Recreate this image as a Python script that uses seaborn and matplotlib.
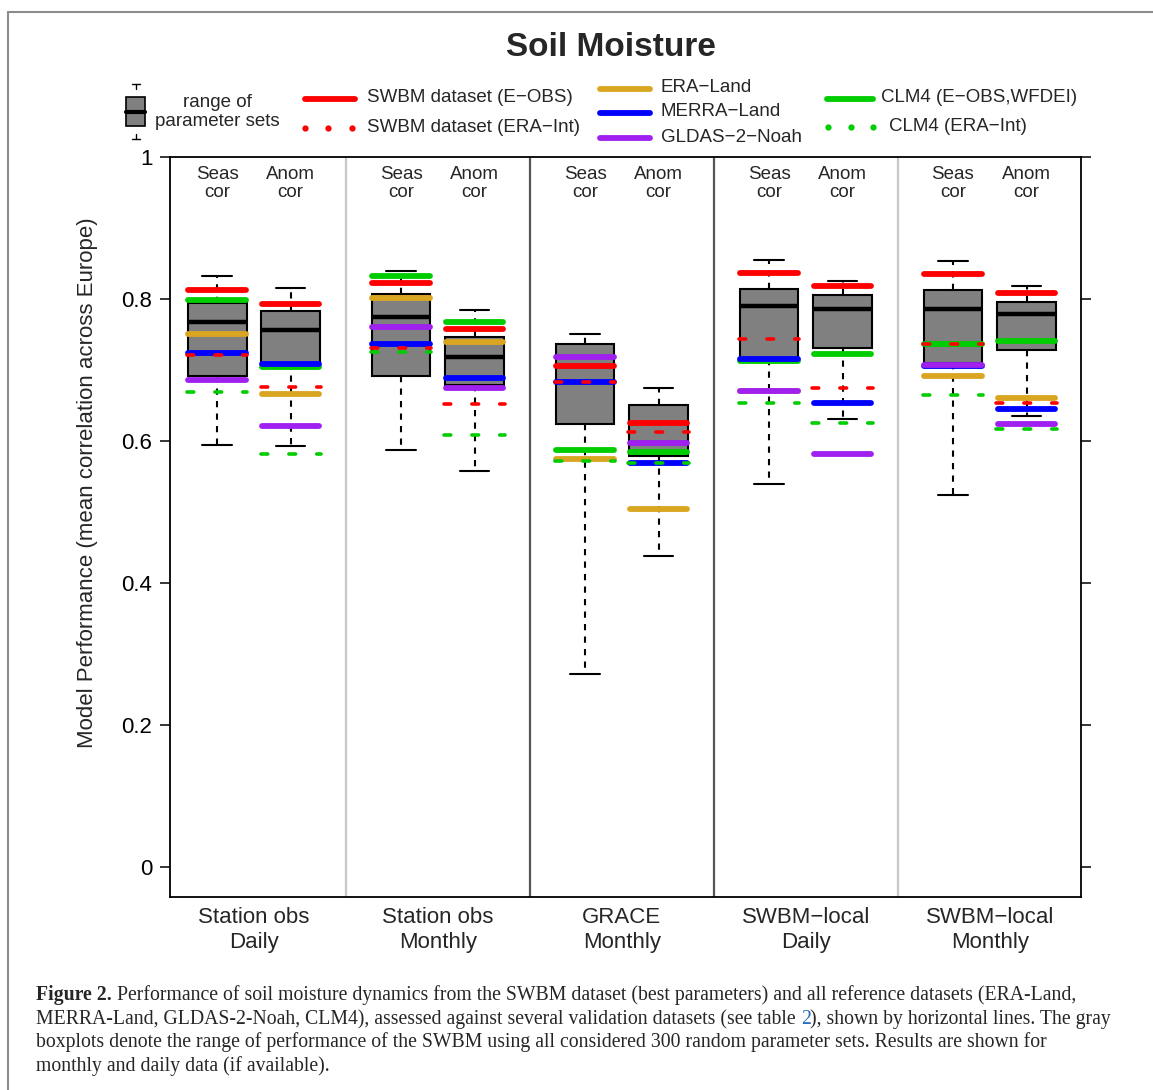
import numpy as np
import pandas as pd
import matplotlib
matplotlib.use("Agg")
import matplotlib.pyplot as plt
import seaborn as sns
from matplotlib.lines import Line2D
from matplotlib.patches import Rectangle

# ---- data ----
groups = ["Station obs\nDaily", "Station obs\nMonthly", "GRACE\nMonthly",
          "SWBM\u2212local\nDaily", "SWBM\u2212local\nMonthly"]
metrics = ["Seas\ncor", "Anom\ncor"]

# boxplot summary of the 300 random parameter sets (whisker low, q1, median, q3, whisker high)
box_lo = [0.594, 0.593, 0.588, 0.558, 0.272, 0.438, 0.540, 0.631, 0.524, 0.635]
box_q1 = [0.691, 0.710, 0.691, 0.679, 0.624, 0.579, 0.715, 0.731, 0.710, 0.728]
box_med = [0.767, 0.757, 0.774, 0.719, 0.706, 0.597, 0.790, 0.786, 0.786, 0.779]
box_q3 = [0.795, 0.783, 0.807, 0.746, 0.737, 0.650, 0.814, 0.806, 0.812, 0.796]
box_hi = [0.833, 0.816, 0.839, 0.785, 0.751, 0.675, 0.855, 0.825, 0.854, 0.819]

# reference datasets (horizontal lines)
swbm_eobs = [0.813, 0.793, 0.822, 0.758, 0.706, 0.626, 0.837, 0.818, 0.835, 0.808]
swbm_eraint = [0.721, 0.676, 0.731, 0.652, 0.683, 0.613, 0.744, 0.675, 0.737, 0.653]
era_land = [0.751, 0.666, 0.802, 0.739, 0.574, 0.504, 0.671, np.nan, 0.691, 0.661]
merra_land = [0.724, 0.708, 0.737, 0.689, 0.683, 0.569, 0.715, 0.654, 0.705, 0.645]
gldas_noah = [0.686, 0.621, 0.760, 0.675, 0.718, 0.597, 0.670, 0.582, 0.707, 0.624]
clm4_eobs = [0.798, 0.704, 0.833, 0.768, 0.587, 0.585, 0.713, 0.722, 0.737, 0.741]
clm4_eraint = [0.669, 0.582, 0.726, 0.609, 0.572, 0.569, 0.654, 0.625, 0.665, 0.617]

yticks = [0, 0.2, 0.4, 0.6, 0.8, 1]
ytick_labels = ["0", "0.2", "0.4", "0.6", "0.8", "1"]

# ---- styling ----
sns.set_style("ticks")
plt.rcParams["font.family"] = ["Liberation Sans", "DejaVu Sans"]

W, H = 1153, 1090
fig = plt.figure(figsize=(W / 100, H / 100), dpi=100)


def fx(x):
    return x / W


def fy(y):
    return 1 - y / H


ax = fig.add_axes([fx(170), fy(897), fx(1081) - fx(170), fy(157) - fy(897)])

# box positions: pairs per group
positions = [2.5 * g + k for g in range(len(groups)) for k in range(len(metrics))]

rows = []
for i, p in enumerate(positions):
    for v in (box_lo[i], box_q1[i], box_med[i], box_q3[i], box_hi[i]):
        rows.append({"pos": p, "value": v})
df = pd.DataFrame(rows)

sns.boxplot(data=df, x="pos", y="value", native_scale=True, whis=(0, 100),
            width=0.8, color="#808080", saturation=1, linecolor="black",
            linewidth=1.5, medianprops=dict(linewidth=3.2, color="black"),
            whiskerprops=dict(linestyle=(0, (3, 3))), ax=ax)

# group separators
sep_colors = ["#c8c8c8", "#555555", "#555555", "#c8c8c8"]
for g in range(len(groups) - 1):
    ax.axvline(2.5 * g + 1.75, color=sep_colors[g], lw=1.6, zorder=1)

# reference dataset lines
pos = np.array(positions)
dotted = (0, (1.86, 5.86))
series = [
    (era_land, "#DAA520", "solid"),
    (clm4_eobs, "#00CD00", "solid"),
    (merra_land, "#0000FF", "solid"),
    (gldas_noah, "#A020F0", "solid"),
    (swbm_eobs, "#FF0000", "solid"),
    (swbm_eraint, "#FF0000", dotted),
    (clm4_eraint, "#00CD00", dotted),
]
for z, (vals, col, ls) in enumerate(series):
    vals = np.array(vals, dtype=float)
    ok = ~np.isnan(vals)
    if ls == "solid":
        half, lw = 0.39, 4.2
    else:
        half, lw = 0.41, 2.6
    ax.hlines(vals[ok], pos[ok] - half, pos[ok] + half, colors=col, linewidth=lw,
              linestyles=ls, capstyle="round", zorder=4 + z)

ax.set_xlim(-0.64, 11.74)
ax.set_ylim(-0.0423, 1.0)
ax.set_xticks([])
ax.set_xlabel("")
ax.set_ylabel("")
ax.set_yticks(yticks)
ax.set_yticklabels(ytick_labels)
ax.tick_params(axis="y", direction="out", length=7.2, width=1.1, labelsize=16,
               pad=5.5, left=True, right=True, colors="black")
for s in ax.spines.values():
    s.set_visible(True)
    s.set_color("black")
    s.set_linewidth(1.3)

# sub labels inside the plot and group labels below
for i, p in enumerate(positions):
    ax.text(p, 0.963, metrics[i % 2], ha="center", va="center", fontsize=13.5,
            linespacing=1.05)
for g, lab in enumerate(groups):
    cx = 2.5 * g + 0.5
    fig.text(fx(ax.transData.transform((cx, 0))[0]), fy(930), lab, ha="center",
             va="center", fontsize=16, linespacing=1.25)

fig.text(fx(88), fy(483), "Model Performance (mean correlation across Europe)",
         rotation=90, ha="center", va="center", fontsize=16)

fig.text(fx(611), fy(47), "Soil Moisture", ha="center", va="center",
         fontsize=24, fontweight="bold")

# ---- legend drawn in figure pixels ----
def fline(xs, ys, **kw):
    fig.add_artist(Line2D([fx(x) for x in xs], [fy(y) for y in ys],
                          transform=fig.transFigure, **kw))


fig.add_artist(Rectangle((fx(126), fy(126)), fx(145) - fx(126), fy(97) - fy(126),
                         transform=fig.transFigure, facecolor="#808080",
                         edgecolor="black", lw=1.2))
fline([126, 145], [111.5, 111.5], color="black", lw=3)
fline([131.5, 139.5], [84, 84], color="black", lw=1)
fline([135.5, 135.5], [84, 89], color="black", lw=1)
fline([131.5, 139.5], [139, 139], color="black", lw=1)
fline([135.5, 135.5], [134, 139], color="black", lw=1)
fig.text(fx(217), fy(112), "range of\nparameter sets", ha="center", va="center",
         fontsize=13.5, linespacing=1.1)

leg_items = [
    ("solid", "#FF0000", 305, 355, 99, 367, "SWBM dataset (E\u2212OBS)"),
    ("dots", "#FF0000", 305, 352, 128, 367, "SWBM dataset (ERA\u2212Int)"),
    ("solid", "#DAA520", 600, 650, 89, 661, "ERA\u2212Land"),
    ("solid", "#0000FF", 600, 650, 113, 661, "MERRA\u2212Land"),
    ("solid", "#A020F0", 600, 650, 138, 661, "GLDAS\u22122\u2212Noah"),
    ("solid", "#00CD00", 827, 873, 99, 881, "CLM4 (E\u2212OBS,WFDEI)"),
    ("dots", "#00CD00", 828, 873, 127, 889, "CLM4 (ERA\u2212Int)"),
]
for kind, col, x0, x1, y, tx, lab in leg_items:
    if kind == "solid":
        fline([x0, x1], [y, y], color=col, lw=4.2, solid_capstyle="round")
    else:
        fline([x0, (x0 + x1) / 2, x1], [y, y, y], color=col, lw=0, marker="o",
              markersize=4.5, markeredgewidth=0)
    fig.text(fx(tx), fy(y - 1), lab, ha="left", va="center", fontsize=13.5)

# ---- border ----
fline([8, 8], [12, H + 5], color="#8c8c8c", lw=1.5)
fline([8, W + 5], [12, 12], color="#8c8c8c", lw=1.5)

# ---- caption ----
serif = ["Liberation Serif", "DejaVu Serif"]
renderer = fig.canvas.get_renderer()
cap_lines = [
    [("Figure 2.", {"fontweight": "bold"}),
     (" Performance of soil moisture dynamics from the SWBM dataset (best parameters) "
      "and all reference datasets (ERA-Land,", {})],
    [("MERRA-Land, GLDAS-2-Noah, CLM4), assessed against several validation datasets "
      "(see table ", {}), ("2", {"color": "#2a6ebb"}),
     ("), shown by horizontal lines. The gray", {})],
    [("boxplots denote the range of performance of the SWBM using all considered 300 "
      "random parameter sets. Results are shown for", {})],
    [("monthly and daily data (if available).", {})],
]
cap_base = [1000, 1024, 1047, 1071]
cap_target = [1070, 1095, 1004]

# fit font size so the lines span about the same width as in the figure
scales = []
for pieces, target in zip(cap_lines[:3], cap_target):
    probe = fig.text(0, 0, "".join(t for t, _ in pieces), fontsize=12, family=serif)
    scales.append(target / probe.get_window_extent(renderer).width)
    probe.remove()
cap_size = 12 * min(scales)

for pieces, yb in zip(cap_lines, cap_base):
    x = 36
    for txt, kw in pieces:
        t = fig.text(fx(x), fy(yb), txt, fontsize=cap_size, family=serif,
                     va="baseline", ha="left", **kw)
        x += t.get_window_extent(renderer).width

fig.savefig("out.png", dpi=100)
